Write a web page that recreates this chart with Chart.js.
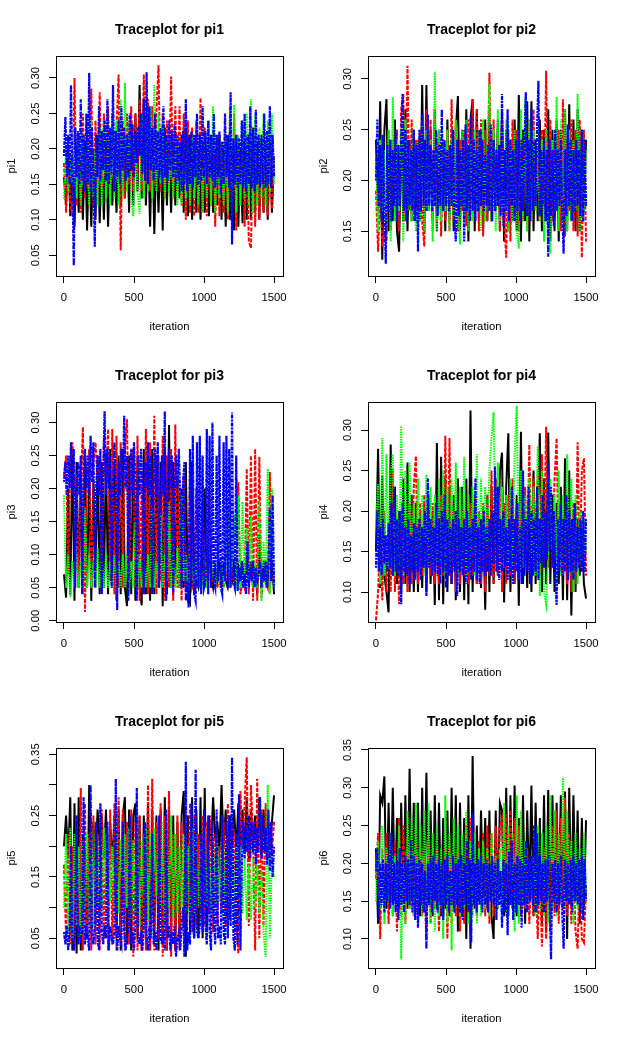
<!DOCTYPE html>
<html>
<head>
<meta charset="UTF-8">
<title>Traceplots</title>
<script src="https://cdn.jsdelivr.net/npm/chart.js"></script>
<style>
    body { margin: 0; background: #fff; }
    #page { position: relative; width: 623px; height: 1038px; }
    canvas { position: absolute; }
</style>
</head>
<body>
<div id="page"></div>
<script>
// values, one list per chain
const pi1Black = [.16,.12,.2,.105,.19,.09,.2,.11,.18,.1,.21,.085,.19,.09,.2,.1,.22,.095,.19,.1,
.21,.09,.2,.12,.19,.11,.2,.12,.21,.13,.22,.11,.24,.12,.25,.14,.29,.13,.27,.12,
.21,.09,.22,.08,.2,.11,.21,.085,.23,.12,.2,.11,.21,.12,.2,.13,.22,.11,.23,.105,
.22,.1,.21,.11,.2,.1,.21,.11,.2,.105,.19,.11,.2,.12,.22,.1,.2,.09,.21,.1,
.2,.085,.22,.09,.2,.095,.21,.1,.22,.1,.23,.11,.21,.1,.22,.11,.2,.1,.21,.11,.19];
const pi1Red = [.18,.11,.2,.12,.105,.3,.12,.22,.11,.25,.13,.23,.14,.285,.12,.24,.13,.28,.14,.25,
.15,.26,.13,.25,.14,.23,.305,.057,.24,.13,.25,.15,.26,.14,.25,.16,.27,.14,.305,.15,
.27,.14,.26,.15,.25,.318,.14,.25,.13,.24,.15,.302,.13,.26,.14,.26,.12,.25,.1,.24,
.11,.23,.105,.24,.11,.272,.11,.23,.105,.22,.12,.21,.09,.22,.105,.21,.11,.22,.1,.24,
.1,.25,.085,.21,.12,.2,.09,.2,.07,.06,.2,.09,.19,.1,.2,.11,.21,.105,.2,.115,.19];
const pi1Green = [.13,.2,.14,.19,.15,.23,.13,.21,.12,.22,.14,.21,.12,.24,.13,.2,.12,.23,.12,.24,
.13,.22,.12,.25,.13,.24,.12,.27,.13,.293,.14,.24,.13,.105,.2,.14,.108,.25,.13,.24,
.14,.26,.13,.29,.14,.25,.15,.24,.13,.22,.14,.21,.13,.22,.12,.2,.12,.21,.13,.21,
.12,.22,.13,.2,.12,.22,.11,.21,.13,.24,.12,.26,.11,.2,.13,.21,.12,.22,.11,.26,
.12,.262,.11,.22,.12,.24,.13,.25,.12,.27,.11,.25,.12,.23,.13,.25,.12,.24,.14,.25,.15];
const pi1Blue = [.19,.245,.16,.22,.15,.29,.16,.035,.23,.16,.225,.15,.27,.155,.22,.14,.25,.15,.307,.14,.23,.16,.062,.22,.16,.26,.155,.225,.17,.24,
.155,.27,.15,.23,.165,.29,.14,.225,.16,.24,.15,.26,.17,.23,.155,.22,.16,.25,.17,.235,.16,.225,.18,.23,.19,.25,.165,.27,.155,.308,
.15,.26,.17,.23,.155,.25,.17,.225,.16,.23,.15,.26,.16,.22,.155,.24,.17,.225,.16,.235,.15,.22,.155,.21,.14,.225,.15,.27,.14,.22,
.15,.225,.145,.22,.16,.25,.15,.22,.155,.26,.16,.225,.15,.24,.16,.22,.155,.25,.145,.22,.16,.225,.135,.21,.15,.25,.16,.22,.145,.28,
.065,.215,.15,.22,.145,.215,.15,.24,.145,.25,.14,.22,.15,.26,.145,.225,.14,.255,.15,.22,.145,.215,.15,.25,.145,.225,.15,.26,.145,.22,.16];

const pi2Black = [.24,.17,.278,.122,.25,.28,.15,.24,.16,.26,.15,.13,.25,.16,.27,.15,.24,.16,.25,.17,
.24,.16,.294,.15,.294,.17,.25,.16,.27,.15,.25,.16,.24,.15,.26,.16,.24,.15,.25,.283,
.15,.25,.16,.27,.14,.26,.28,.15,.27,.16,.25,.15,.26,.16,.27,.16,.25,.17,.26,.15,
.27,.14,.25,.15,.24,.16,.26,.15,.284,.14,.25,.16,.278,.14,.278,.15,.24,.16,.26,.15,
.25,.16,.27,.14,.25,.15,.26,.14,.25,.16,.27,.15,.275,.16,.26,.15,.27,.15,.25,.17,.24];
const pi2Red = [.19,.13,.2,.135,.15,.14,.25,.15,.24,.16,.25,.15,.27,.285,.16,.313,.17,.26,.16,.24,
.17,.25,.16,.135,.27,.17,.26,.15,.27,.16,.25,.145,.24,.16,.25,.15,.28,.16,.26,.15,
.24,.17,.25,.155,.26,.16,.28,.17,.27,.15,.26,.145,.25,.16,.306,.16,.26,.17,.25,.15,
.26,.16,.124,.25,.14,.26,.17,.25,.15,.24,.16,.25,.15,.26,.16,.27,.17,.23,.16,.25,
.17,.308,.15,.26,.16,.24,.17,.25,.15,.28,.145,.24,.17,.26,.15,.25,.145,.26,.124,.25,.14];
const pi2Green = [.22,.15,.24,.17,.23,.16,.25,.14,.282,.16,.24,.17,.25,.14,.26,.17,.23,.16,.25,.15,
.24,.16,.26,.15,.25,.17,.24,.14,.307,.15,.25,.16,.24,.17,.25,.15,.24,.16,.26,.17,
.137,.25,.16,.26,.15,.24,.16,.25,.17,.25,.15,.26,.16,.24,.295,.16,.25,.15,.27,.16,
.25,.17,.26,.15,.24,.16,.25,.15,.133,.27,.16,.28,.15,.26,.16,.25,.17,.23,.16,.24,
.14,.25,.16,.128,.24,.17,.282,.15,.26,.16,.27,.15,.25,.16,.24,.17,.285,.15,.25,.17,.23];
const pi2Blue = [.2,.26,.175,.235,.16,.245,.17,.118,.235,.17,.24,.16,.23,.175,.25,.16,.235,.175,.24,.285,.17,.25,.16,.24,.175,.23,.17,.25,.16,.235,
.13,.25,.17,.265,.175,.24,.17,.265,.175,.235,.17,.23,.175,.25,.165,.235,.175,.27,.17,.24,.175,.23,.17,.235,.175,.25,.16,.14,.24,.165,
.23,.175,.24,.14,.255,.17,.235,.16,.265,.17,.24,.16,.23,.17,.25,.175,.24,.17,.225,.175,.235,.17,.255,.16,.24,.17,.23,.175,.235,.165,
.285,.155,.23,.17,.27,.16,.24,.175,.23,.16,.24,.17,.25,.16,.24,.17,.23,.287,.165,.24,.16,.27,.17,.24,.175,.25,.298,.165,.23,.175,
.24,.16,.23,.125,.24,.165,.23,.155,.25,.17,.23,.175,.24,.17,.128,.23,.165,.255,.175,.24,.16,.23,.17,.24,.175,.23,.165,.25,.16,.24,.175];

const pi3Black = [.07,.035,.2,.04,.26,.03,.24,.05,.22,.04,.25,.05,.23,.03,.21,.05,.25,.04,.24,.05,
.25,.04,.26,.05,.24,.03,.25,.04,.26,.05,.022,.25,.04,.26,.03,.25,.05,.023,.26,.04,
.25,.03,.26,.04,.25,.05,.24,.022,.26,.04,.296,.05,.24,.06,.22,.05,.2,.05,.24,.03,
.025,.24,.04,.06,.05,.08,.06,.2,.05,.09,.07,.05,.08,.06,.09,.05,.08,.06,.05,.07,
.06,.09,.05,.08,.06,.09,.05,.1,.06,.09,.05,.08,.04,.13,.05,.09,.06,.08,.05,.09,.04];
const pi3Red = [.22,.25,.07,.24,.27,.2,.22,.05,.2,.293,.013,.22,.26,.05,.24,.27,.21,.25,.05,.28,
.2,.29,.06,.29,.04,.28,.05,.27,.05,.26,.305,.06,.21,.26,.05,.28,.03,.22,.04,.29,
.04,.27,.05,.31,.04,.25,.06,.28,.03,.25,.05,.26,.03,.297,.05,.2,.03,.22,.05,.06,
.21,.05,.06,.2,.05,.07,.18,.05,.06,.2,.05,.07,.06,.05,.07,.06,.05,.07,.06,.05,
.07,.06,.05,.21,.04,.06,.05,.23,.04,.25,.03,.26,.03,.248,.035,.07,.06,.05,.225,.06,.07];
const pi3Green = [.19,.05,.1,.035,.09,.05,.1,.05,.09,.04,.17,.05,.1,.05,.09,.05,.11,.05,.1,.05,
.1,.05,.09,.05,.1,.05,.09,.05,.1,.05,.1,.045,.09,.05,.15,.05,.1,.05,.09,.05,
.1,.05,.17,.05,.09,.06,.16,.05,.1,.06,.18,.05,.1,.05,.11,.05,.19,.06,.1,.05,
.07,.09,.05,.1,.05,.08,.06,.1,.05,.08,.06,.09,.05,.08,.06,.09,.05,.08,.17,.05,
.09,.16,.05,.19,.05,.18,.05,.14,.05,.16,.05,.08,.05,.18,.03,.12,.05,.23,.04,.2,.05];
const pi3Blue = [.21,.24,.19,.25,.2,.27,.19,.26,.05,.2,.24,.19,.25,.04,.21,.26,.2,.25,.19,.28,.21,.27,.05,.2,.25,.19,.26,.04,.21,.317,
.19,.26,.2,.25,.05,.21,.27,.2,.016,.24,.19,.26,.21,.31,.2,.25,.03,.2,.26,.19,.27,.21,.03,.25,.19,.26,.2,.04,.24,.2,
.27,.19,.25,.04,.21,.26,.19,.27,.05,.2,.25,.19,.317,.03,.21,.26,.2,.25,.04,.19,.25,.2,.26,.19,.05,.21,.24,.03,.06,.02,
.26,.05,.28,.04,.03,.27,.05,.28,.04,.25,.05,.06,.29,.04,.28,.05,.3,.06,.05,.25,.06,.28,.05,.04,.27,.06,.28,.05,.26,.05,
.315,.06,.05,.25,.045,.08,.06,.09,.05,.07,.04,.12,.05,.08,.06,.09,.05,.08,.06,.07,.09,.05,.08,.06,.09,.05,.08,.17,.06,.19,.05];

const pi4Black = [.15,.277,.105,.244,.12,.1,.075,.282,.12,.23,.11,.2,.1,.24,.11,.26,.1,.22,.1,.21,
.1,.2,.105,.21,.1,.22,.11,.2,.084,.284,.09,.267,.085,.24,.1,.23,.11,.22,.09,.24,
.1,.23,.09,.24,.085,.324,.1,.21,.11,.2,.105,.2,.078,.22,.1,.23,.11,.24,.12,.25,
.272,.087,.23,.296,.1,.22,.11,.22,.083,.298,.11,.2,.105,.22,.1,.25,.11,.2,.296,.1,
.24,.11,.297,.11,.22,.1,.21,.11,.23,.09,.265,.09,.25,.071,.2,.1,.19,.12,.18,.11,.092];
const pi4Red = [.065,.1,.17,.09,.2,.1,.18,.1,.252,.1,.19,.085,.2,.11,.18,.1,.21,.11,.23,.268,
.11,.21,.12,.22,.11,.2,.12,.21,.11,.2,.11,.22,.12,.293,.12,.29,.11,.2,.1,.19,
.11,.2,.12,.19,.11,.21,.12,.22,.11,.2,.11,.21,.1,.22,.12,.25,.11,.24,.12,.22,
.1,.21,.11,.22,.12,.24,.11,.2,.13,.21,.14,.23,.15,.282,.14,.24,.13,.25,.12,.27,
.15,.304,.13,.22,.14,.24,.29,.13,.2,.12,.19,.11,.2,.1,.21,.11,.285,.13,.25,.265,.12];
const pi4Green = [.18,.233,.11,.29,.12,.27,.13,.25,.27,.12,.22,.13,.305,.12,.25,.13,.26,.14,.21,.13,
.24,.13,.22,.12,.245,.13,.23,.12,.22,.14,.24,.13,.25,.12,.23,.13,.24,.14,.26,.12,
.23,.13,.267,.12,.22,.13,.23,.12,.27,.13,.24,.14,.23,.15,.25,.29,.322,.15,.26,.14,
.23,.13,.22,.14,.24,.13,.27,.33,.14,.25,.13,.22,.15,.24,.14,.23,.12,.28,.095,.25,
.1,.085,.15,.24,.13,.22,.14,.25,.12,.22,.13,.27,.12,.24,.1,.22,.11,.2,.13,.19,.15];
const pi4Blue = [.13,.2,.125,.18,.12,.19,.135,.17,.125,.185,.13,.21,.12,.23,.125,.19,.12,.2,.085,.21,.125,.18,.12,.19,.11,.17,.125,.185,.115,.18,
.125,.19,.115,.18,.13,.2,.095,.24,.13,.19,.12,.18,.125,.21,.12,.19,.11,.2,.125,.22,.105,.19,.12,.18,.11,.19,.125,.2,.095,.19,
.125,.18,.12,.19,.11,.2,.125,.18,.115,.19,.125,.24,.115,.18,.11,.19,.125,.2,.12,.18,.125,.19,.12,.2,.135,.255,.125,.23,.115,.19,
.125,.2,.13,.18,.115,.19,.125,.23,.11,.19,.125,.21,.115,.18,.11,.25,.12,.19,.125,.23,.11,.2,.12,.19,.125,.23,.115,.19,.135,.22,
.13,.2,.14,.26,.15,.23,.13,.2,.12,.084,.19,.125,.21,.12,.19,.125,.22,.115,.2,.125,.19,.115,.21,.125,.18,.13,.19,.125,.2,.125,.19];

const pi5Black = [.2,.25,.18,.28,.03,.27,.025,.28,.03,.22,.19,.05,.3,.19,.24,.17,.26,.2,.25,.18,
.26,.14,.24,.17,.25,.05,.26,.03,.25,.28,.04,.26,.03,.25,.27,.05,.25,.03,.25,.05,
.27,.03,.26,.05,.25,.03,.26,.04,.28,.03,.26,.05,.25,.03,.24,.05,.25,.29,.02,.25,
.06,.28,.05,.26,.05,.28,.05,.295,.06,.25,.2,.28,.21,.24,.19,.3,.2,.26,.18,.25,
.2,.26,.19,.27,.2,.26,.19,.28,.18,.26,.2,.25,.19,.28,.18,.26,.19,.25,.2,.24,.283];
const pi5Red = [.17,.05,.22,.04,.2,.03,.25,.04,.295,.03,.27,.05,.22,.03,.25,.04,.22,.03,.26,.05,
.22,.03,.26,.04,.27,.03,.28,.04,.26,.03,.24,.04,.26,.02,.24,.03,.25,.03,.22,.03,
.3,.03,.31,.03,.24,.05,.27,.02,.25,.03,.29,.02,.22,.03,.25,.03,.24,.07,.23,.1,
.27,.06,.25,.07,.22,.08,.25,.07,.24,.09,.25,.06,.22,.07,.2,.09,.24,.07,.27,.08,
.24,.22,.07,.025,.29,.2,.27,.345,.07,.3,.22,.03,.31,.05,.26,.07,.27,.18,.22,.19,.24];
const pi5Green = [.1,.22,.06,.23,.05,.22,.07,.2,.05,.21,.1,.22,.09,.23,.07,.22,.1,.21,.1,.23,
.12,.22,.11,.2,.1,.22,.09,.21,.13,.22,.1,.23,.08,.21,.09,.22,.07,.21,.1,.23,
.08,.22,.09,.23,.12,.22,.1,.24,.07,.22,.1,.25,.08,.22,.09,.2,.1,.22,.09,.2,
.08,.23,.09,.22,.1,.21,.09,.23,.1,.2,.09,.21,.1,.2,.11,.19,.08,.2,.1,.18,
.2,.07,.2,.12,.2,.09,.18,.08,.17,.08,.18,.1,.17,.09,.16,.06,.02,.3,.05,.18,.15];
const pi5Blue = [.06,.04,.07,.03,.06,.2,.05,.03,.06,.25,.04,.07,.05,.06,.28,.04,.07,.05,.03,.3,.06,.04,.07,.24,.05,.03,.27,.06,.04,.07,
.05,.24,.03,.07,.05,.04,.06,.31,.03,.07,.05,.04,.24,.06,.03,.05,.07,.25,.04,.06,.03,.07,.295,.05,.04,.06,.03,.07,.24,.05,
.03,.07,.05,.22,.04,.06,.03,.07,.25,.05,.04,.06,.03,.26,.05,.07,.03,.06,.04,.07,.02,.05,.06,.03,.07,.1,.02,.338,.03,.06,
.04,.27,.07,.05,.325,.06,.05,.07,.22,.06,.26,.07,.04,.25,.06,.03,.24,.08,.04,.26,.05,.07,.04,.25,.06,.04,.24,.05,.25,.07,
.345,.05,.03,.22,.04,.285,.03,.17,.24,.18,.23,.19,.25,.18,.24,.19,.24,.17,.23,.19,.28,.18,.25,.19,.23,.17,.26,.16,.24,.15,.2];

const pi6Black = [.22,.12,.29,.28,.315,.14,.28,.15,.3,.15,.26,.14,.28,.15,.29,.14,.325,.15,.28,.16,
.28,.13,.3,.15,.32,.15,.27,.13,.29,.14,.28,.13,.26,.14,.27,.13,.3,.14,.29,.11,
.28,.13,.26,.1,.29,.087,.342,.14,.25,.15,.27,.16,.26,.14,.27,.13,.1,.27,.14,.28,
.27,.13,.3,.13,.29,.14,.303,.13,.26,.14,.29,.12,.27,.16,.303,.13,.28,.14,.26,.12,
.29,.11,.297,.13,.29,.14,.28,.15,.29,.14,.295,.1,.3,.14,.29,.15,.27,.12,.26,.14,.257];
const pi6Red = [.18,.24,.1,.22,.15,.24,.12,.2,.13,.23,.11,.26,.13,.25,.12,.22,.14,.21,.13,.23,
.12,.22,.13,.21,.1,.23,.12,.21,.14,.22,.11,.2,.13,.22,.1,.23,.12,.21,.13,.22,
.11,.2,.12,.25,.13,.26,.14,.22,.13,.23,.14,.24,.13,.25,.12,.24,.13,.25,.14,.25,
.26,.15,.265,.16,.27,.15,.26,.14,.25,.13,.2,.14,.22,.12,.2,.13,.19,.1,.2,.09,
.22,.1,.21,.11,.25,.13,.27,.12,.26,.14,.287,.13,.24,.12,.2,.11,.087,.2,.1,.095,.17];
const pi6Green = [.15,.23,.14,.25,.12,.22,.15,.24,.13,.21,.14,.25,.073,.2,.12,.27,.14,.26,.13,.28,
.15,.25,.13,.27,.14,.28,.12,.24,.11,.25,.13,.22,.1,.29,.12,.24,.085,.26,.14,.25,
.13,.24,.14,.27,.12,.23,.13,.24,.12,.22,.13,.23,.14,.22,.13,.24,.15,.21,.14,.22,
.15,.28,.13,.25,.15,.24,.11,.29,.12,.27,.14,.23,.15,.2,.16,.21,.13,.25,.14,.24,
.13,.25,.12,.29,.14,.27,.13,.24,.15,.313,.14,.27,.15,.23,.12,.24,.14,.22,.15,.24,.16];
const pi6Blue = [.19,.22,.125,.2,.145,.205,.135,.2,.15,.21,.14,.24,.145,.2,.135,.205,.125,.22,.145,.2,.135,.21,.15,.205,.145,.23,.135,.21,.125,.2,
.115,.205,.145,.2,.135,.19,.087,.2,.145,.205,.135,.21,.15,.2,.135,.205,.145,.2,.125,.205,.145,.21,.135,.19,.145,.21,.135,.2,.145,.205,
.135,.21,.125,.2,.145,.23,.135,.205,.095,.267,.145,.2,.135,.205,.145,.21,.135,.2,.145,.205,.135,.2,.15,.21,.145,.2,.125,.205,.145,.19,
.115,.205,.135,.2,.105,.215,.145,.23,.125,.2,.135,.21,.145,.205,.115,.2,.145,.23,.135,.205,.15,.21,.145,.25,.135,.24,.145,.21,.15,.2,
.135,.205,.15,.21,.145,.073,.2,.15,.205,.135,.2,.145,.21,.135,.087,.205,.15,.2,.145,.205,.135,.21,.15,.2,.145,.205,.135,.21,.125,.205,.15];

const xTicks = [0, 500, 1000, 1500];
const yTicks1 = [0.05, 0.10, 0.15, 0.20, 0.25, 0.30];
const yTicks2 = [0.15, 0.20, 0.25, 0.30];
const yTicks3 = [0.00, 0.05, 0.10, 0.15, 0.20, 0.25, 0.30];
const yTicks4 = [0.10, 0.15, 0.20, 0.25, 0.30];
const yTicks5 = [0.05, 0.10, 0.15, 0.20, 0.25, 0.30, 0.35];
const yLabels5 = [0.05, 0.15, 0.25, 0.35]; // R drops the others, no room
const yTicks6 = [0.10, 0.15, 0.20, 0.25, 0.30, 0.35];

const panels = [
    { name: 'pi1', chains: [pi1Black, pi1Red, pi1Green, pi1Blue], ticks: yTicks1, labels: yTicks1, min: 0.0206, max: 0.331 },
    { name: 'pi2', chains: [pi2Black, pi2Red, pi2Green, pi2Blue], ticks: yTicks2, labels: yTicks2, min: 0.106, max: 0.3225 },
    { name: 'pi3', chains: [pi3Black, pi3Red, pi3Green, pi3Blue], ticks: yTicks3, labels: yTicks3, min: -0.002, max: 0.331 },
    { name: 'pi4', chains: [pi4Black, pi4Red, pi4Green, pi4Blue], ticks: yTicks4, labels: yTicks4, min: 0.063, max: 0.3346 },
    { name: 'pi5', chains: [pi5Black, pi5Red, pi5Green, pi5Blue], ticks: yTicks5, labels: yLabels5, min: 0.0015, max: 0.3603 },
    { name: 'pi6', chains: [pi6Black, pi6Red, pi6Green, pi6Blue], ticks: yTicks6, labels: yTicks6, min: 0.0616, max: 0.3526 }
];

const chainColors = ['#000000', '#ff0000', '#00ff00', '#0000ff'];
const chainDashes = [[], [4, 1.5], [1.5, 1], [2, 1, 4, 1]];
const chainWidths = [2, 2, 2, 2.2];

const PANEL_W = 312, PANEL_H = 346;
const FONT = 'Liberation Sans';

// box round the plot region, same as R's box()
const boxPlugin = {
    id: 'box',
    afterDraw(chart) {
        const a = chart.chartArea, c = chart.ctx;
        c.save();
        c.strokeStyle = '#000';
        c.lineWidth = 1;
        c.strokeRect(Math.round(a.left) + 0.5, Math.round(a.top) + 0.5, Math.round(a.width), Math.round(a.height));
        c.restore();
    }
};

function makePanel(p, i) {
    const canvas = document.createElement('canvas');
    canvas.width = PANEL_W;
    canvas.height = PANEL_H;
    canvas.style.left = (i % 2) * PANEL_W + 'px';
    canvas.style.top = Math.floor(i / 2) * PANEL_H + 'px';
    document.getElementById('page').appendChild(canvas);

    const datasets = p.chains.map((values, c) => ({
        data: values.map((v, k) => ({ x: k * 1500 / (values.length - 1), y: v })),
        borderColor: chainColors[c],
        borderDash: chainDashes[c],
        borderWidth: chainWidths[c],
        pointRadius: 0,
        order: 4 - c
    }));

    new Chart(canvas, {
        type: 'line',
        data: { datasets },
        plugins: [boxPlugin],
        options: {
            responsive: false,
            animation: false,
            events: [],
            layout: { padding: { right: 29 } },
            plugins: {
                legend: { display: false },
                tooltip: { enabled: false },
                title: {
                    display: true,
                    fullSize: false,
                    text: 'Traceplot for ' + p.name,
                    color: '#000',
                    font: { family: FONT, size: 14, weight: 'bold' },
                    padding: { top: 21.5, bottom: 17.7 }
                }
            },
            scales: {
                x: {
                    type: 'linear',
                    min: -57,
                    max: 1564,
                    border: { display: false },
                    grid: { drawOnChartArea: false, tickLength: 7, color: '#000' },
                    afterBuildTicks: s => { s.ticks = xTicks.map(v => ({ value: v })); },
                    afterFit: s => { s.height = 70; },
                    ticks: { color: '#000', font: { family: FONT, size: 11.3 }, padding: 8, maxRotation: 0, autoSkip: false, callback: v => String(v) },
                    title: { display: true, text: 'iteration', color: '#000', font: { family: FONT, size: 11.3 }, padding: { top: 0, bottom: 12.5 } }
                },
                y: {
                    type: 'linear',
                    min: p.min,
                    max: p.max,
                    border: { display: false },
                    grid: { drawOnChartArea: false, tickLength: 7, color: '#000' },
                    afterBuildTicks: s => { s.ticks = p.ticks.map(v => ({ value: v })); },
                    afterFit: s => { s.width = 56; },
                    ticks: {
                        color: '#000',
                        font: { family: FONT, size: 11.3 },
                        padding: 2,
                        minRotation: 90,
                        maxRotation: 90,
                        crossAlign: 'center',
                        autoSkip: false,
                        callback: v => p.labels.includes(v) ? v.toFixed(2) : ''
                    },
                    title: { display: true, text: p.name, color: '#000', font: { family: FONT, size: 11.3 }, padding: { top: 5, bottom: 0 } }
                }
            }
        }
    });
}

panels.forEach(makePanel);
</script>
</body>
</html>
